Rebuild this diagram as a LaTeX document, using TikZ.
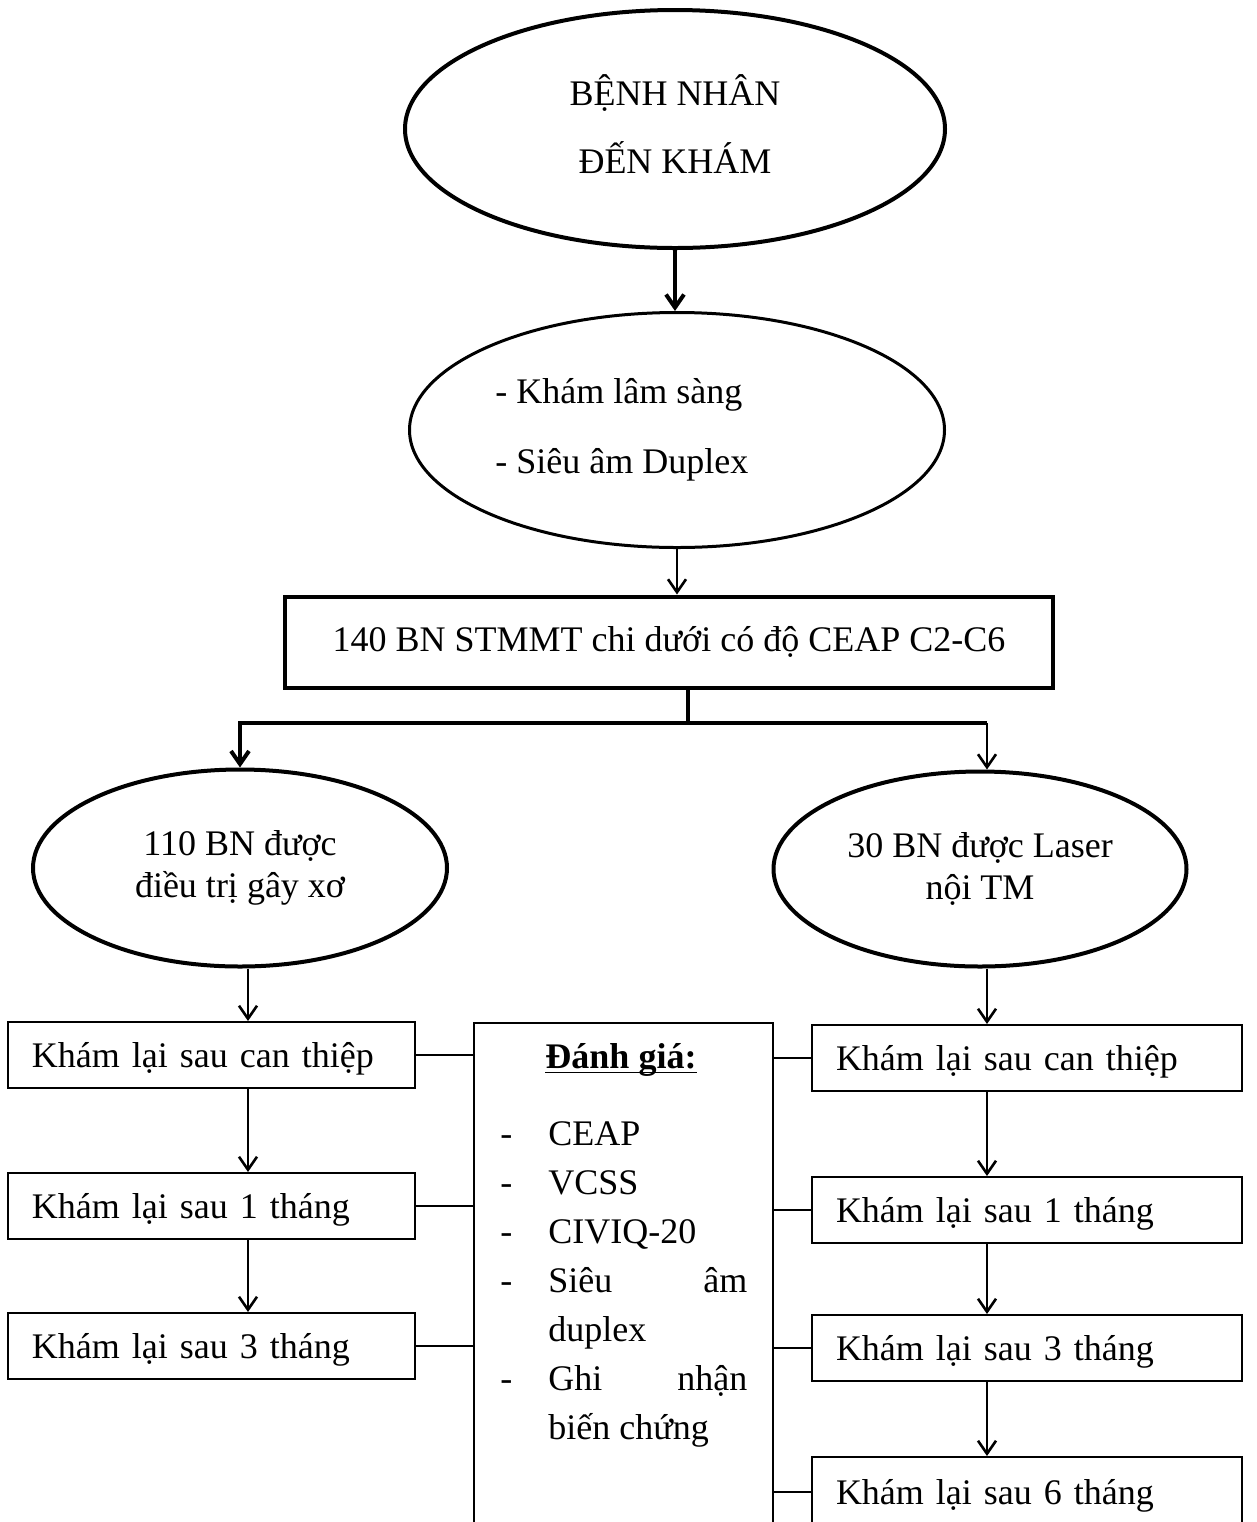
\documentclass[tikz,border=0pt]{standalone}
\usepackage{fontspec}
\setmainfont{Liberation Serif}
\usetikzlibrary{shapes.geometric,arrows.meta}

\newcommand{\titleul}[1]{\setbox0=\hbox{#1}\rlap{\rule[-2.6pt]{\wd0}{0.8pt}}\box0}

\begin{document}
\begin{tikzpicture}[x=0.5pt, y=-0.5pt,
    every node/.style={font=\fontsize{18}{21}\selectfont},
    oval/.style={draw, ellipse, line width=2pt, inner sep=0pt, align=center},
    visit/.style={draw, line width=1pt, minimum height=33pt, text width=#1, inner xsep=12pt,
                  text height=16pt, text depth=3.5pt, align=left},
    visit/.default=179.5pt,
    link/.style={line width=1pt},
    flow/.style={line width=1pt, -{Straight Barb[length=6.5pt,width=9pt,line width=1.3pt]}},
    bigflow/.style={line width=2pt, -{Straight Barb[length=6.5pt,width=9pt]}}]

  \useasboundingbox (0,0) rectangle (1257,1522);

  % Intake
  \node[oval, minimum width=270pt, minimum height=119pt, text depth=5pt,
        font=\fontsize{18}{34}\selectfont] (patient) at (675,129) {BỆNH NHÂN\\ĐẾN KHÁM};

  \node[oval, line width=1.5pt, minimum width=267.5pt, minimum height=117.5pt] (exam) at (677,430) {};
  \node[anchor=west, inner sep=0pt, align=left,
        font=\fontsize{18}{35}\selectfont] (examtext) at (495,430) {- Khám lâm sàng\\- Siêu âm Duplex};

  \node[draw, line width=2pt, minimum width=384pt, minimum height=45.5pt] (cohort) at (669,642)
    {140 BN STMMT chi dưới có độ CEAP C2-C6};

  % Two groups
  \node[oval, minimum width=207pt, minimum height=98.5pt] (sclero) at (240,868) {110 BN được\\điều trị gây xơ};
  \node[oval, minimum width=206.5pt, minimum height=97.5pt] (laser) at (980,869) {30 BN được Laser\\nội TM};

  \coordinate (split) at (688,723);
  \coordinate (laserin) at (987,723);
  \coordinate (sclerolane) at (248,0);
  \coordinate (laserlane) at (987,0);

  % Follow-up visits
  \node[visit] (sclero0) at (211.5,1055) {Khám lại sau can thiệp};
  \node[visit] (sclero1) at (211.5,1206) {Khám lại sau 1 tháng};
  \node[visit] (sclero3) at (211.5,1346) {Khám lại sau 3 tháng};

  \node[visit=191pt] (laser0) at (1027,1058) {Khám lại sau can thiệp};
  \node[visit=191pt] (laser1) at (1027,1210) {Khám lại sau 1 tháng};
  \node[visit=191pt] (laser3) at (1027,1348) {Khám lại sau 3 tháng};
  \node[visit=191pt, minimum height=35pt] (laser6) at (1027,1492) {Khám lại sau 6 tháng};

  % Evaluation
  \node[draw, line width=1pt, anchor=north west, minimum width=149.5pt, minimum height=300pt] (eval) at (473,1022) {};
  \node[anchor=base, inner sep=0pt] (evaltitle) at (621,1068) {\titleul{\textbf{Đánh giá:}}};
  \node[anchor=north west, inner sep=0pt, font=\fontsize{18}{24.5}\selectfont] (evallist) at (500,1111) {%
    \begin{tabular}{@{}p{24pt}@{}p{99.5pt}@{}}
      - & CEAP\\
      - & VCSS\\
      - & CIVIQ-20\\
      - & Siêu\hfill âm\\
        & duplex\\
      - & Ghi\hfill nhận\\
        & biến chứng
    \end{tabular}};

  % Connectors
  \draw[bigflow] (patient.south) -- (patient.south |- exam.north);
  \draw[flow] (exam.south) -- (exam.south |- cohort.north);
  \draw[line width=2pt] (cohort.south -| split) -- (split);
  \draw[bigflow] (split) -| (sclero.north);
  \draw[line width=2pt] (split) -- (laserin);
  \draw[flow] (laserin) -- (laserin |- laser.north);

  \draw[flow] (sclero.south -| sclerolane) -- (sclero0.north -| sclerolane);
  \draw[flow] (sclero0.south -| sclerolane) -- (sclero1.north -| sclerolane);
  \draw[flow] (sclero1.south -| sclerolane) -- (sclero3.north -| sclerolane);

  \draw[flow] (laser.south -| laserlane) -- (laser0.north -| laserlane);
  \draw[flow] (laser0.south -| laserlane) -- (laser1.north -| laserlane);
  \draw[flow] (laser1.south -| laserlane) -- (laser3.north -| laserlane);
  \draw[flow] (laser3.south -| laserlane) -- (laser6.north -| laserlane);

  \draw[link] (sclero0.east) -- (sclero0.east -| eval.west);
  \draw[link] (sclero1.east) -- (sclero1.east -| eval.west);
  \draw[link] (sclero3.east) -- (sclero3.east -| eval.west);

  \draw[link] (laser0.west) -- (laser0.west -| eval.east);
  \draw[link] (laser1.west) -- (laser1.west -| eval.east);
  \draw[link] (laser3.west) -- (laser3.west -| eval.east);
  \draw[link] (laser6.west) -- (laser6.west -| eval.east);
\end{tikzpicture}
\end{document}
